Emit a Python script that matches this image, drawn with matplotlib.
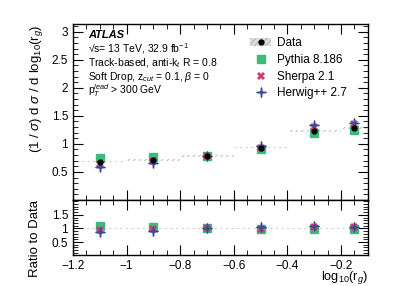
import numpy as np
import matplotlib
matplotlib.use("Agg")
from matplotlib import pyplot as plt
from matplotlib.ticker import MultipleLocator
from matplotlib.patches import Patch
from matplotlib.lines import Line2D
from matplotlib.path import Path

plt.rcParams['font.family'] = ['Liberation Sans', 'DejaVu Sans']
plt.rcParams['mathtext.fontset'] = 'custom'
plt.rcParams['mathtext.rm'] = 'Liberation Sans'
plt.rcParams['mathtext.it'] = 'Liberation Sans:italic'
plt.rcParams['hatch.color'] = '#999999'
plt.rcParams['hatch.linewidth'] = 0.6

# binning in log10(r_g)
bin_edges = [-1.2, -1.0, -0.8, -0.6, -0.4, -0.2, -0.1]
bin_centers = [-1.1, -0.9, -0.7, -0.5, -0.3, -0.15]

data = [0.685, 0.714, 0.79, 0.935, 1.23, 1.29]
data_unc = [0.015, 0.015, 0.015, 0.015, 0.02, 0.02]
pythia = [0.745, 0.76, 0.79, 0.905, 1.20, 1.25]
sherpa = [0.65, 0.69, 0.79, 0.92, 1.31, 1.36]
herwig = [0.595, 0.655, 0.79, 0.97, 1.345, 1.38]

c_py = '#3dba7e'
c_sh = '#d63a6a'
c_hw = '#3b4a9c'

# thin four-pointed star for Herwig
r_in = 0.18
ang = np.deg2rad(np.arange(0, 360, 45) + 90)
rad = np.array([1, r_in] * 4)
star_verts = np.column_stack([rad * np.cos(ang), rad * np.sin(ang)])
star_verts = np.vstack([star_verts, star_verts[:1]])
star4 = Path(star_verts, closed=True)

fig = plt.figure(figsize=(3.99, 2.86), dpi=100)
ax = fig.add_axes([0.183, 0.301, 0.739, 0.615])
rax = fig.add_axes([0.183, 0.108, 0.739, 0.193], sharex=ax)

data = np.array(data)
unc = np.array(data_unc)
edges = np.array(bin_edges)


def draw_band(a, vals, err):
    for i in range(len(vals)):
        a.fill_between([edges[i], edges[i+1]], vals[i]-err[i], vals[i]+err[i],
                       facecolor='none', edgecolor='#b0b0b0', hatch='//////',
                       linewidth=0)


ms = 5.5
draw_band(ax, data, unc)
ax.plot(bin_centers, pythia, 's', color=c_py, ms=ms, zorder=3)
ax.plot(bin_centers, sherpa, 'X', color=c_sh, ms=ms, mew=0, zorder=4)
ax.plot(bin_centers, herwig, marker=star4, ls='none', color=c_hw, ms=ms+1.2, zorder=5)
ax.plot(bin_centers, data, 'o', color='black', ms=3.5, zorder=6)

draw_band(rax, data/data, unc/data)
rax.plot(bin_centers, np.array(pythia)/data, 's', color=c_py, ms=ms, zorder=3)
rax.plot(bin_centers, np.array(sherpa)/data, 'X', color=c_sh, ms=ms, mew=0, zorder=4)
rax.plot(bin_centers, np.array(herwig)/data, marker=star4, ls='none', color=c_hw, ms=ms+1.2, zorder=5)

ax.set_xlim(-1.2, -0.1)
ax.set_ylim(0, 3.14)
rax.set_ylim(0.02, 2.05)

for a in (ax, rax):
    a.tick_params(which='both', direction='in', top=True, right=True, labelsize=8.5)
    a.tick_params(which='major', length=7)
    a.tick_params(which='minor', length=3.5)
    a.xaxis.set_major_locator(MultipleLocator(0.2))
    a.xaxis.set_minor_locator(MultipleLocator(0.05))
    a.yaxis.set_minor_locator(MultipleLocator(0.1))
    for s in a.spines.values():
        s.set_linewidth(1.0)
ax.set_yticks([0.5, 1, 1.5, 2, 2.5, 3])
ax.set_yticklabels(['0.5', '1', '1.5', '2', '2.5', '3'])
rax.set_yticks([0.5, 1, 1.5])
rax.set_yticklabels(['0.5', '1', '1.5'])
plt.setp(ax.get_xticklabels(), visible=False)
rax.set_xticks([-1.2, -1, -0.8, -0.6, -0.4, -0.2])
rax.set_xticklabels(['\u22121.2', '\u22121', '\u22120.8', '\u22120.6', '\u22120.4', '\u22120.2'])

ax.set_ylabel(r'(1 / $\sigma$) d $\sigma$ / d log$_{10}$(r$_g$)', fontsize=9.5, loc='top')
rax.set_ylabel('Ratio to Data', fontsize=9.5, loc='top')
ax.yaxis.set_label_coords(-0.095, 1.0)
rax.yaxis.set_label_coords(-0.11, 1.0)
rax.set_xlabel(r'log$_{10}$(r$_g$)', fontsize=9.2)
rax.xaxis.set_label_coords(1.0, -0.41)
rax.xaxis.label.set_ha('right')
rax.xaxis.label.set_va('center')

tx = 0.05
ax.text(tx, 0.94, 'ATLAS', transform=ax.transAxes, fontsize=8, fontweight='bold', style='italic', va='center')
ax.text(tx, 0.86, '\u221as= 13 TeV, 32.9 fb$^{-1}$', transform=ax.transAxes, fontsize=7.5, va='center')
ax.text(tx, 0.78, r'Track-based, anti-k$_t$ R = 0.8', transform=ax.transAxes, fontsize=7.5, va='center')
ax.text(tx, 0.70, r'Soft Drop, z$_{cut}$ = 0.1, $\beta$ = 0', transform=ax.transAxes, fontsize=7.5, va='center')
ax.text(tx, 0.62, r'p$_T^{lead}$ > 300 GeV', transform=ax.transAxes, fontsize=7.5, va='center')

h_data = (Patch(facecolor='#dddddd', edgecolor='#aaaaaa', hatch='//////', linewidth=0),
          Line2D([], [], marker='o', color='black', ls='none', ms=3.5))
h_py = Line2D([], [], marker='s', color=c_py, ls='none', ms=ms)
h_sh = Line2D([], [], marker='X', color=c_sh, ls='none', ms=ms, mew=0)
h_hw = Line2D([], [], marker=star4, color=c_hw, ls='none', ms=ms+1.2)
ax.legend([h_data, h_py, h_sh, h_hw], ['Data', 'Pythia 8.186', 'Sherpa 2.1', 'Herwig++ 2.7'],
          loc='upper left', bbox_to_anchor=(0.565, 0.985), frameon=False, fontsize=8.5,
          handlelength=1.8, handletextpad=0.5, labelspacing=0.4)

fig.savefig('out.png', dpi=100)
